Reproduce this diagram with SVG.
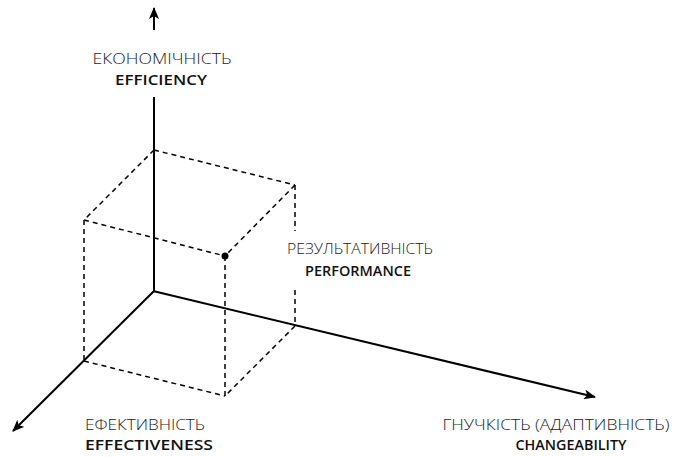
<svg xmlns="http://www.w3.org/2000/svg" width="677" height="457" viewBox="0 0 677 457">
<style>
.axis{stroke:#000;stroke-width:2;fill:none}
.dash{stroke:#000;stroke-width:1.5;stroke-dasharray:5 4;fill:none}
.ua{font-family:"Open Sans","Liberation Sans",sans-serif;font-size:15px;font-weight:350;fill:#1a1a1a;text-anchor:middle}
.en{font-family:"Open Sans","Liberation Sans",sans-serif;font-size:15px;font-weight:600;fill:#111;text-anchor:middle}
</style>
<defs>
<marker id="ah" viewBox="0 0 12 10" refX="11" refY="5" markerWidth="12" markerHeight="10" markerUnits="userSpaceOnUse" orient="auto">
<path d="M0,0 L12,5 L0,10 L3,5 Z" fill="#000"/>
</marker>
</defs>
<g id="connectors">
<line class="axis" x1="154" y1="30" x2="154" y2="8" marker-end="url(#ah)"/>
<line class="axis" x1="154" y1="97" x2="154" y2="292"/>
<line class="axis" x1="154" y1="291" x2="13" y2="431" marker-end="url(#ah)"/>
<line class="axis" x1="153" y1="291" x2="595" y2="397" marker-end="url(#ah)"/>
<g id="cube">
<line class="dash" x1="154" y1="150" x2="295" y2="185"/>
<line class="dash" x1="154" y1="150" x2="84" y2="220"/>
<line class="dash" x1="84" y1="220" x2="225" y2="256"/>
<line class="dash" x1="295" y1="185" x2="225" y2="256"/>
<line class="dash" x1="84" y1="220" x2="84" y2="361"/>
<line class="dash" x1="225" y1="256" x2="225" y2="396"/>
<line class="dash" x1="295" y1="185" x2="295" y2="231"/>
<line class="dash" x1="295" y1="290" x2="295" y2="326"/>
<line class="dash" x1="84" y1="361" x2="225" y2="396"/>
<line class="dash" x1="295" y1="326" x2="225" y2="396"/>
</g>
</g>
<g id="point">
<circle cx="225" cy="256" r="3.5" fill="#000"/>
</g>
<g id="efficiency">
<text class="ua" x="162" y="64" textLength="139" lengthAdjust="spacingAndGlyphs">ЕКОНОМІЧНІСТЬ</text>
<text class="en" x="161" y="85" textLength="92" lengthAdjust="spacingAndGlyphs">EFFICIENCY</text>
</g>
<g id="performance">
<text class="ua" x="360" y="254" textLength="146" lengthAdjust="spacingAndGlyphs">РЕЗУЛЬТАТИВНІСТЬ</text>
<text class="en" x="358" y="276" textLength="106" lengthAdjust="spacingAndGlyphs">PERFORMANCE</text>
</g>
<g id="effectiveness">
<text class="ua" x="145" y="430" textLength="120" lengthAdjust="spacingAndGlyphs">ЕФЕКТИВНІСТЬ</text>
<text class="en" x="149" y="450" textLength="128" lengthAdjust="spacingAndGlyphs">EFFECTIVENESS</text>
</g>
<g id="changeability">
<text class="ua" x="556" y="430" textLength="227" lengthAdjust="spacingAndGlyphs">ГНУЧКІСТЬ (АДАПТИВНІСТЬ)</text>
<text class="en" x="571" y="450" textLength="111" lengthAdjust="spacingAndGlyphs">CHANGEABILITY</text>
</g>
</svg>
